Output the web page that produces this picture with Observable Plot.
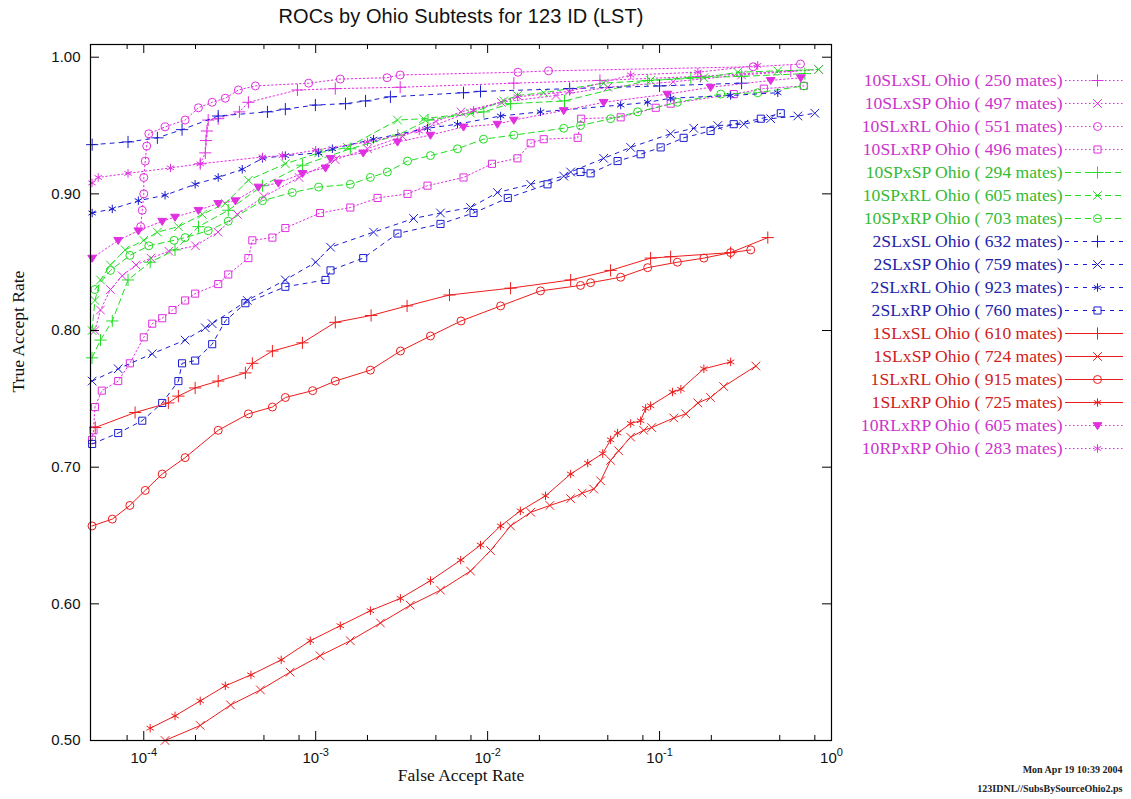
<!DOCTYPE html>
<html><head><meta charset="utf-8">
<script src="https://cdn.jsdelivr.net/npm/d3@7"></script>
<script src="https://cdn.jsdelivr.net/npm/@observablehq/plot@0.6"></script>
<style>
html,body{margin:0;padding:0;background:#fff;}
#wrap{position:relative;width:1131px;height:799px;overflow:hidden;background:#fff;}
#title{position:absolute;left:0;top:5px;width:922px;text-align:center;font-family:"Liberation Sans",Arial,sans-serif;font-size:20px;color:#111;letter-spacing:0.1px;}
#chart{position:absolute;left:0;top:0;}
#legend{position:absolute;left:850px;top:55px;}
</style></head><body>
<div id="wrap"><div id="chart"></div><div id="title"></div><div id="legend"></div></div>
<script>
// ---- data: [False Accept Rate, True Accept Rate] ----
const s10SLxSL = [[2.13e-4,0.922],[2.28e-4,0.930],[2.30e-4,0.939],[2.33e-4,0.946],[2.37e-4,0.954],[2.71e-4,0.955],[3.6e-4,0.960],[4.06e-4,0.967],[7.83e-4,0.976],[1.3e-3,0.977],[3.1e-3,0.978],[1.42e-2,0.981],[4.5e-2,0.983],[0.173,0.986],[0.58,0.990]];
const s10SLxSP = [[5.2e-5,0.800],[5.6e-5,0.815],[6.4e-5,0.830],[7.5e-5,0.840],[9e-5,0.848],[1.1e-4,0.853],[1.4e-4,0.858],[2e-4,0.862],[2.7e-4,0.872],[3.5e-4,0.885],[5e-4,0.898],[8e-4,0.912],[1.3e-3,0.925],[2e-3,0.933],[3.2e-3,0.942],[5e-3,0.953],[7e-3,0.960],[1.2e-2,0.967],[2.5e-2,0.972],[5e-2,0.978],[0.12,0.982],[0.3,0.987],[0.84,0.991]];
const s10SLxRL = [[9.6e-5,0.876],[9.8e-5,0.888],[1.0e-4,0.900],[1.0e-4,0.912],[1.02e-4,0.924],[1.04e-4,0.935],[1.07e-4,0.944],[1.33e-4,0.949],[1.74e-4,0.954],[2.08e-4,0.963],[2.5e-4,0.967],[2.98e-4,0.970],[3.55e-4,0.976],[4.46e-4,0.979],[9.1e-4,0.981],[1.39e-3,0.984],[2.6e-3,0.985],[3.1e-3,0.987],[1.5e-2,0.989],[2.26e-2,0.990],[0.35,0.993],[0.66,0.995]];
const s10SLxRP = [[5.0e-5,0.720],[5.1e-5,0.727],[5.2e-5,0.744],[5.7e-5,0.756],[7.1e-5,0.763],[8.3e-5,0.776],[1.0e-4,0.795],[1.12e-4,0.805],[1.28e-4,0.809],[1.47e-4,0.815],[1.74e-4,0.822],[1.99e-4,0.827],[2.71e-4,0.834],[3.1e-4,0.841],[4.06e-4,0.853],[4.28e-4,0.866],[5.6e-4,0.868],[6.66e-4,0.875],[1.06e-3,0.886],[1.59e-3,0.890],[2.29e-3,0.897],[3.42e-3,0.900],[4.47e-3,0.906],[7.24e-3,0.912],[1.06e-2,0.922],[1.49e-2,0.926],[1.78e-2,0.937],[2.12e-2,0.940],[3.34e-2,0.941],[3.5e-2,0.955],[5.94e-2,0.956],[9.5e-2,0.963],[0.116,0.966],[0.27,0.973],[0.404,0.977],[0.69,0.979]];
const s10SPxSP = [[5.0e-5,0.780],[5.6e-5,0.793],[6.56e-5,0.807],[8.1e-5,0.837],[1.09e-4,0.850],[1.52e-4,0.859],[2.08e-4,0.876],[3.1e-4,0.888],[4.9e-4,0.906],[8.37e-4,0.921],[1.59e-3,0.933],[3.0e-3,0.943],[4.5e-3,0.954],[9.5e-3,0.960],[1.36e-2,0.966],[2.8e-2,0.968],[8.53e-2,0.983],[0.152,0.985],[0.3,0.986],[0.7,0.988]];
const s10SPxRL = [[5.0e-5,0.800],[5.2e-5,0.822],[5.6e-5,0.837],[6.4e-5,0.848],[7.8e-5,0.859],[1.0e-4,0.866],[1.2e-4,0.872],[1.59e-4,0.876],[2.19e-4,0.885],[2.98e-4,0.893],[4.06e-4,0.910],[6.66e-4,0.922],[1.04e-3,0.930],[1.53e-3,0.934],[2.99e-3,0.954],[4.24e-3,0.955],[7.95e-3,0.959],[1.24e-2,0.968],[1.49e-2,0.972],[2.12e-2,0.974],[4.73e-2,0.981],[8.87e-2,0.983],[0.181,0.985],[0.285,0.989],[0.487,0.990],[0.844,0.991]];
const s10SPxRP = [[5.2e-5,0.830],[6.4e-5,0.844],[8.3e-5,0.855],[1.07e-4,0.862],[1.5e-4,0.866],[1.74e-4,0.868],[2.37e-4,0.873],[3.1e-4,0.880],[4.9e-4,0.895],[7.31e-4,0.901],[1.04e-3,0.905],[1.59e-3,0.907],[2.08e-3,0.912],[2.61e-3,0.916],[3.42e-3,0.924],[4.65e-3,0.928],[6.68e-3,0.933],[9.46e-3,0.940],[1.42e-2,0.943],[2.77e-2,0.948],[3.47e-2,0.950],[5.19e-2,0.955],[7.46e-2,0.960],[0.127,0.967],[0.227,0.973],[0.372,0.974],[0.69,0.979]];
const s2SLxSL = [[5.01e-5,0.936],[8.1e-5,0.938],[1.2e-4,0.941],[1.67e-4,0.947],[2.71e-4,0.957],[5.24e-4,0.960],[6.66e-4,0.962],[9.96e-4,0.965],[1.49e-3,0.966],[1.95e-3,0.968],[2.72e-3,0.971],[7.24e-3,0.974],[9.09e-3,0.975],[3e-2,0.977],[0.1,0.979],[0.3,0.981]];
const s2SLxSP = [[5.01e-5,0.763],[7.1e-5,0.772],[1.12e-4,0.783],[1.74e-4,0.793],[2.28e-4,0.802],[2.5e-4,0.805],[4e-4,0.822],[6.66e-4,0.837],[1.0e-3,0.850],[1.22e-3,0.861],[2.17e-3,0.872],[3.71e-3,0.882],[5.32e-3,0.886],[7.95e-3,0.890],[1.14e-2,0.901],[1.78e-2,0.907],[2.77e-2,0.913],[3.04e-2,0.916],[4.73e-2,0.926],[6.79e-2,0.934],[0.116,0.944],[0.158,0.948],[0.218,0.950],[0.309,0.951],[0.443,0.955],[0.637,0.957],[0.8,0.959]];
const s2SLxRL = [[5.01e-5,0.886],[6.56e-5,0.889],[9.3e-5,0.895],[1.33e-4,0.899],[1.99e-4,0.907],[2.71e-4,0.912],[3.74e-4,0.918],[4.9e-4,0.926],[6.66e-4,0.928],[1.04e-3,0.930],[1.25e-3,0.933],[2.17e-3,0.940],[4.47e-3,0.948],[6.68e-3,0.951],[1.19e-2,0.957],[2.03e-2,0.960],[5.94e-2,0.965],[8.53e-2,0.967],[0.116,0.970],[0.259,0.972],[0.487,0.974]];
const s2SLxRP = [[5.01e-5,0.717],[7.1e-5,0.725],[9.8e-5,0.734],[1.28e-4,0.747],[1.59e-4,0.763],[1.67e-4,0.776],[1.99e-4,0.778],[2.5e-4,0.790],[2.98e-4,0.807],[3.9e-4,0.820],[6.66e-4,0.832],[1.14e-3,0.837],[1.22e-3,0.844],[1.89e-3,0.853],[2.99e-3,0.871],[5.32e-3,0.878],[8.28e-3,0.886],[1.31e-2,0.897],[2.23e-2,0.907],[3.47e-2,0.916],[3.97e-2,0.915],[5.7e-2,0.924],[7.76e-2,0.929],[0.1015,0.934],[0.138,0.941],[0.198,0.946],[0.27,0.951],[0.388,0.955],[0.507,0.959]];
const s1SLxSL = [[5.22e-5,0.729],[8.9e-5,0.740],[1.39e-4,0.747],[1.59e-4,0.752],[1.99e-4,0.758],[2.71e-4,0.763],[3.9e-4,0.769],[4.28e-4,0.776],[5.6e-4,0.785],[8.37e-4,0.791],[1.3e-3,0.806],[2.1e-3,0.811],[3.4e-3,0.818],[6e-3,0.826],[1.36e-2,0.831],[3.04e-2,0.837],[5.19e-2,0.844],[8.87e-2,0.853],[0.116,0.854],[0.259,0.857],[0.426,0.868]];
const s1SLxSP = [[1.33e-4,0.500],[2.13e-4,0.511],[3.2e-4,0.526],[4.77e-4,0.537],[7.1e-4,0.550],[1.06e-3,0.562],[1.59e-3,0.573],[2.38e-3,0.586],[3.55e-3,0.599],[5.32e-3,0.610],[7.95e-3,0.624],[1.04e-2,0.639],[1.36e-2,0.657],[1.78e-2,0.667],[2.3e-2,0.672],[3.04e-2,0.677],[3.55e-2,0.681],[4.14e-2,0.684],[4.54e-2,0.690],[5.19e-2,0.705],[5.78e-2,0.712],[6.79e-2,0.722],[8.08e-2,0.727],[9.0e-2,0.729],[0.121,0.736],[0.142,0.739],[0.167,0.747],[0.198,0.751],[0.236,0.759],[0.363,0.774]];
const s1SLxRL = [[5.0e-5,0.657],[6.56e-5,0.662],[8.3e-5,0.672],[1.02e-4,0.683],[1.28e-4,0.695],[1.74e-4,0.707],[2.71e-4,0.727],[4.06e-4,0.739],[5.6e-4,0.744],[6.66e-4,0.751],[9.6e-4,0.756],[1.3e-3,0.763],[2.08e-3,0.771],[3.11e-3,0.785],[4.65e-3,0.796],[7.0e-3,0.807],[1.19e-2,0.818],[2.03e-2,0.829],[3.47e-2,0.833],[3.97e-2,0.835],[5.94e-2,0.839],[8.53e-2,0.846],[0.127,0.850],[0.181,0.853],[0.259,0.857],[0.339,0.859]];
const s1SLxRP = [[1.09e-4,0.509],[1.52e-4,0.518],[2.13e-4,0.529],[2.98e-4,0.540],[4.2e-4,0.548],[6.3e-4,0.559],[9.3e-4,0.573],[1.39e-3,0.584],[2.08e-3,0.595],[3.11e-3,0.604],[4.65e-3,0.617],[6.97e-3,0.632],[9.09e-3,0.643],[1.19e-2,0.657],[1.55e-2,0.668],[2.17e-2,0.679],[3.04e-2,0.695],[3.82e-2,0.703],[4.67e-2,0.710],[5.19e-2,0.720],[5.7e-2,0.725],[6.79e-2,0.732],[7.76e-2,0.734],[8.3e-2,0.743],[8.87e-2,0.745],[0.119,0.755],[0.133,0.757],[0.181,0.772],[0.259,0.777]];
const s10RLxRP = [[5.01e-5,0.853],[7.1e-5,0.866],[9.3e-5,0.873],[1.28e-4,0.880],[1.52e-4,0.883],[2.08e-4,0.888],[2.71e-4,0.893],[3.41e-4,0.895],[4.64e-4,0.905],[6.06e-4,0.908],[8.37e-4,0.915],[1.14e-3,0.919],[1.22e-3,0.926],[1.89e-3,0.930],[2.99e-3,0.938],[4.65e-3,0.943],[7.24e-3,0.949],[1.14e-2,0.951],[1.42e-2,0.954],[2.77e-2,0.961],[4.73e-2,0.967],[0.111,0.973],[0.198,0.978],[0.443,0.983],[0.663,0.985]];
const s10RPxRP = [[5.0e-5,0.908],[5.43e-5,0.912],[8.1e-5,0.915],[1.43e-4,0.919],[2.13e-4,0.922],[4.9e-4,0.927],[6.4e-4,0.928],[1.0e-3,0.932],[2.0e-3,0.938],[4.0e-3,0.946],[8.28e-3,0.961],[1.49e-2,0.971],[3.0e-2,0.975],[6.79e-2,0.987],[0.167,0.989],[0.372,0.994]];

const seriesNames = ["10SLxSL","10SLxSP","10SLxRL","10SLxRP","10SPxSP","10SPxRL","10SPxRP","2SLxSL","2SLxSP","2SLxRL","2SLxRP","1SLxSL","1SLxSP","1SLxRL","1SLxRP","10RLxRP","10RPxRP"];
const mates = [250,497,551,496,294,605,703,632,759,923,760,610,724,915,725,605,283];
const seriesValues = [s10SLxSL,s10SLxSP,s10SLxRL,s10SLxRP,s10SPxSP,s10SPxRL,s10SPxRP,s2SLxSL,s2SLxSP,s2SLxRL,s2SLxRP,s1SLxSL,s1SLxSP,s1SLxRL,s1SLxRP,s10RLxRP,s10RPxRP];
const markerKinds = ["plus","times","circle","square","plus","times","circle","plus","times","asterisk","square","plus","times","circle","asterisk","tridown","asterisk"];
const groupOf = ["m","m","m","m","g","g","g","b","b","b","b","r","r","r","r","m","m"];
const xMajor = [1e-4,1e-3,1e-2,1e-1,1];
const xMinor = [8e-5,2e-4,5e-4,8e-4,2e-3,5e-3,8e-3,2e-2,5e-2,8e-2,2e-1,5e-1,8e-1];
const yTicks = [0.5,0.6,0.7,0.8,0.9,1.0];
const titleText = "ROCs by Ohio Subtests for 123 ID (LST)";
const xLabel = "False Accept Rate";
const yLabel = "True Accept Rate";
const footer1 = "Mon Apr 19 10:39 2004";
const footer2 = "123IDNL//SubsBySourceOhio2.ps";

// ---- styles ----
const groupStyle = {
  m: {stroke: "#e030e0", text: "#cc33cc", dash: "1.5,2.5"},
  g: {stroke: "#22dd22", text: "#33bb33", dash: "6,4"},
  b: {stroke: "#1c1cd0", text: "#2222aa", dash: "4,5"},
  r: {stroke: "#ee1c1c", text: "#d02020", dash: null}
};
const SERIF = "'Liberation Serif','Times New Roman',serif";
const SANS = "'Liberation Sans',Arial,sans-serif";
const triDown = {draw(ctx, size) { const s = Math.sqrt(size) * 0.62; ctx.moveTo(-s, -s * 0.65); ctx.lineTo(s, -s * 0.65); ctx.lineTo(0, s * 0.95); ctx.closePath(); }};

function dotMark(data, i, opts) {
  const st = groupStyle[groupOf[i]];
  const k = markerKinds[i];
  const base = {r: 4, strokeWidth: 1, ...opts};
  if (k === "tridown") return Plot.dot(data, {...base, symbol: triDown, fill: st.stroke, stroke: st.stroke});
  return Plot.dot(data, {...base, symbol: k, fill: "none", stroke: st.stroke});
}

const W = 1131, H = 799, mL = 90, mR = 300, mT = 44, mB = 59;
const fw = W - mL - mR, fh = H - mT - mB;

const marks = [];
seriesValues.forEach((data, i) => {
  const st = groupStyle[groupOf[i]];
  marks.push(Plot.line(data, {x: d => d[0], y: d => d[1], stroke: st.stroke, strokeWidth: 1, strokeDasharray: st.dash || undefined}));
  marks.push(dotMark(data, i, {x: d => d[0], y: d => d[1]}));
});

const chart = Plot.plot({
  width: W, height: H, marginLeft: mL, marginRight: mR, marginTop: mT, marginBottom: mB,
  style: {fontFamily: SANS, fontSize: "15px", color: "#111", background: "transparent"},
  x: {type: "log", domain: [4.9e-5, 1]},
  y: {domain: [0.5, 1.0093]},
  marks: [
    ...marks,
    Plot.ruleX(xMajor, {x: d => d, insetTop: fh - 9, stroke: "#000"}),
    Plot.ruleX(xMajor, {x: d => d, insetBottom: fh - 9, stroke: "#000"}),
    Plot.ruleX(xMinor, {x: d => d, insetTop: fh - 5, stroke: "#000"}),
    Plot.ruleX(xMinor, {x: d => d, insetBottom: fh - 5, stroke: "#000"}),
    Plot.ruleY(yTicks, {y: d => d, insetRight: fw - 9, stroke: "#000"}),
    Plot.ruleY(yTicks, {y: d => d, insetLeft: fw - 9, stroke: "#000"}),
    Plot.frame({stroke: "#000", strokeWidth: 1.2}),
    Plot.axisX({ticks: xMajor, tickFormat: d => "10^" + Math.round(Math.log10(d)), tickSize: 0, tickPadding: 12, label: null, fontSize: 15}),
    Plot.axisY({ticks: yTicks, tickFormat: d3.format(".2f"), tickSize: 0, tickPadding: 10, label: null, fontSize: 15}),
    Plot.text([xLabel], {frameAnchor: "bottom", dy: 40, text: d => d, fontFamily: SERIF, fontSize: 17.5, fill: "#111"}),
    Plot.text([yLabel], {frameAnchor: "left", dx: -72, rotate: -90, text: d => d, fontFamily: SERIF, fontSize: 17.5, fill: "#111"}),
    Plot.text([footer1], {frameAnchor: "bottom-right", dx: W - mL - fw - 9, dy: 32, text: d => d, textAnchor: "end", fontFamily: SERIF, fontSize: 10, fontWeight: "bold", fill: "#222"}),
    Plot.text([footer2], {frameAnchor: "bottom-right", dx: W - mL - fw - 9, dy: 51, text: d => d, textAnchor: "end", fontFamily: SERIF, fontSize: 10, fontWeight: "bold", fill: "#222"})
  ]
});
document.getElementById("chart").appendChild(chart);
document.getElementById("title").textContent = titleText;

// superscript exponents on x tick labels
chart.querySelectorAll("text").forEach(t => {
  const s = t.textContent;
  if (/^10\^/.test(s)) {
    const exp = s.split("^")[1];
    t.textContent = "10";
    const ts = document.createElementNS("http://www.w3.org/2000/svg", "tspan");
    ts.setAttribute("dy", "-7");
    ts.setAttribute("font-size", "11");
    ts.textContent = exp;
    t.appendChild(ts);
  }
});

// ---- legend ----
const labels = seriesNames.map((n, i) => `${n} Ohio ( ${mates[i]} mates)`);
const lmarks = [];
labels.forEach((lab, i) => {
  const st = groupStyle[groupOf[i]];
  lmarks.push(Plot.ruleY([lab], {y: d => d, insetLeft: 215, insetRight: 8, stroke: st.stroke, strokeWidth: 1, strokeDasharray: st.dash || undefined}));
  lmarks.push(dotMark([lab], i, {y: d => d, frameAnchor: "left", dx: 247}));
  lmarks.push(Plot.text([lab], {y: d => d, frameAnchor: "left", dx: 212, text: d => d, textAnchor: "end", fill: st.text, fontFamily: SERIF, fontSize: 17.6}));
});
const legend = Plot.plot({
  width: 281, height: 430, margin: 0,
  style: {background: "transparent"},
  y: {type: "point", domain: labels, range: [11, 11 + 16 * 24.7], axis: null},
  marks: lmarks
});
document.getElementById("legend").appendChild(legend);
</script>
</body></html>
